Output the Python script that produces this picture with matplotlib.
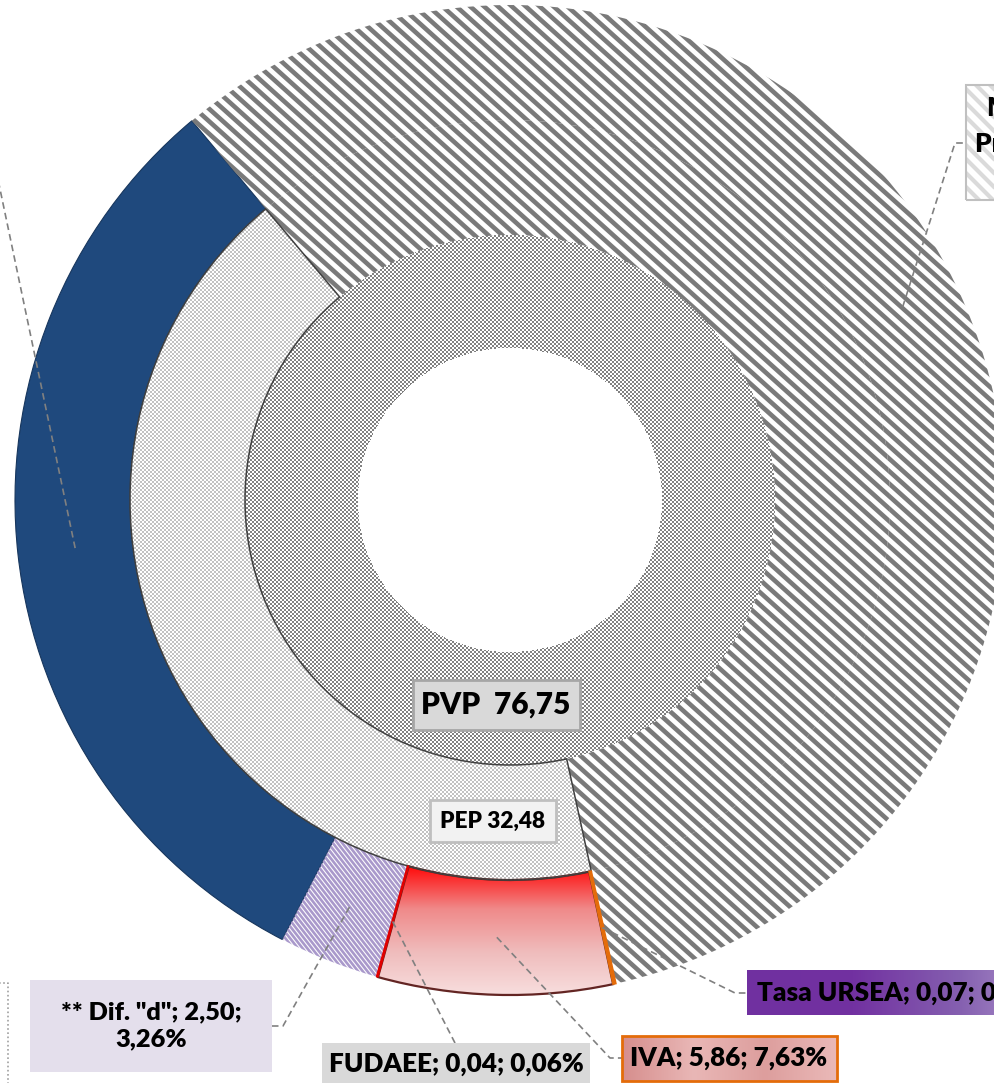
import numpy as np
import matplotlib
matplotlib.use("Agg")
import matplotlib.pyplot as plt
from matplotlib.patches import Rectangle
from matplotlib.collections import LineCollection
from matplotlib.colors import LinearSegmentedColormap, to_rgb

plt.rcParams['font.family'] = ['Lato', 'DejaVu Sans']

# --- data ---
pvp_total = 76.75
middle_names = ['PEP', 'Resto']
middle_values = [32.48, 44.27]
outer_names = ['IMESI', '** Dif. "d"', 'FUDAEE', 'IVA', 'Tasa URSEA', 'Márgenes']
outer_values = [24.01, 2.50, 0.04, 5.86, 0.07, 44.27]
outer_pcts = [31.28, 3.26, 0.06, 7.63, 0.09, 57.68]

W, H = 994, 1083
CX, CY = 510, H - 500
BOLD = 'heavy'


def fmt(v):
    return f"{v:.2f}".replace('.', ',')


def Y(y):
    # pixel row -> data y
    return H - y


def extents(patch):
    return patch.get_path().get_extents(patch.get_patch_transform())


def stripes(ax, patch, spacing, angle, color, lw, z):
    b = extents(patch)
    t = np.tan(np.radians(angle))
    cmin = b.y0 + t * b.x0
    cmax = b.y1 + t * b.x1
    cs = np.arange(np.floor(cmin / spacing) * spacing, cmax + spacing, spacing)
    segs = [[(b.x0 - 5, -t * (b.x0 - 5) + c), (b.x1 + 5, -t * (b.x1 + 5) + c)] for c in cs]
    lc = LineCollection(segs, colors=color, linewidths=lw, zorder=z)
    ax.add_collection(lc)
    lc.set_clip_path(patch)


def checker(ax, w, dark, z, cell=2):
    # pixel checkerboard texture limited to the wedge's ring sector
    cx, cy = w.center
    r0, r1 = w.r - w.width, w.r
    x0, x1 = int(cx - r1) - 1, int(cx + r1) + 2
    y0, y1 = int(cy - r1) - 1, int(cy + r1) + 2
    jj, ii = np.meshgrid(np.arange(x0, x1), np.arange(y0, y1))
    dx, dy = jj + 0.5 - cx, ii + 0.5 - cy
    rr = np.hypot(dx, dy)
    span = w.theta2 - w.theta1
    ang = (np.degrees(np.arctan2(dy, dx)) - w.theta1) % 360
    inside = (rr >= r0) & (rr <= r1) & ((ang <= span) | (span >= 359.99))
    img = np.ones((y1 - y0, x1 - x0, 4))
    img[(ii // cell + jj // cell) % 2 == 0, :3] = to_rgb(dark)
    img[..., 3] = inside
    ax.imshow(img, extent=(x0, x1, y0, y1), origin='lower',
              interpolation='nearest', resample=False, zorder=z)


def gradient(ax, patch, colors, z, horizontal=False):
    b = extents(patch)
    cmap = LinearSegmentedColormap.from_list('g', colors)
    arr = np.linspace(0, 1, 256)
    arr = arr[None, :] if horizontal else arr[:, None]
    im = ax.imshow(arr, cmap=cmap, extent=(b.x0, b.x1, b.y0, b.y1), origin='upper',
                   aspect='auto', interpolation='bicubic', zorder=z)
    im.set_clip_path(patch)


fig = plt.figure(figsize=(W / 100, H / 100), dpi=100)
ax = fig.add_axes([0, 0, 1, 1])

# inner ring: PVP
inner, _ = ax.pie([pvp_total], radius=265, center=(CX, CY), startangle=130,
                  wedgeprops=dict(width=113, edgecolor='none'))
# middle ring: PEP + rest
middle, _ = ax.pie(middle_values, radius=380, center=(CX, CY), startangle=130,
                   wedgeprops=dict(width=115, edgecolor='none'))
# outer ring: components
outer, _ = ax.pie(outer_values, radius=495, center=(CX, CY), startangle=130,
                  wedgeprops=dict(width=115, edgecolor='none'))

# inner ring texture
inner[0].set_facecolor('none')
inner[0].set_zorder(3)
checker(ax, inner[0], '#818181', 2)

# PEP texture + outline
middle[0].set_facecolor('none')
middle[0].set_edgecolor('#404040')
middle[0].set_linewidth(1.1)
middle[0].set_zorder(4)
checker(ax, middle[0], '#c2c2c2', 2)

# gray diagonal stripes (rest, middle + outer)
for w in (middle[1], outer[5]):
    w.set_facecolor('none')
    w.set_zorder(3)
    stripes(ax, w, 12.5, 42, '#7a7a7a', 3.3, 2)

# IMESI
outer[0].set_facecolor('#1f497d')
outer[0].set_edgecolor('#17365d')
outer[0].set_linewidth(0.8)

# Dif "d"
outer[1].set_facecolor('none')
outer[1].set_zorder(3)
stripes(ax, outer[1], 6, 52, '#a999cb', 1.9, 2)

# FUDAEE
outer[2].set_facecolor('#e00000')
outer[2].set_edgecolor('#e00000')
outer[2].set_linewidth(1.0)
outer[2].set_zorder(4)

# IVA gradient
outer[3].set_facecolor('none')
outer[3].set_edgecolor('#632523')
outer[3].set_linewidth(1.6)
outer[3].set_zorder(3)
gradient(ax, outer[3], ['#ff0a0a', '#f08a8a', '#efbcbc', '#f8dede'], 2)

# Tasa URSEA
outer[4].set_facecolor('#e46c0a')
outer[4].set_edgecolor('#e46c0a')
outer[4].set_linewidth(1.2)
outer[4].set_zorder(4)

# --- centre labels ---
ax.add_patch(Rectangle((413, Y(730)), 167, 50, facecolor='#d9d9d9',
                       edgecolor='#a6a6a6', linewidth=2, zorder=6))
ax.text(496, Y(705), 'PVP  ' + fmt(pvp_total), ha='center', va='center',
        fontsize=21.5, fontweight=BOLD, zorder=7)
ax.add_patch(Rectangle((430, Y(842)), 126, 42, facecolor='#f2f2f2',
                       edgecolor='#bfbfbf', linewidth=2, zorder=6))
ax.text(493, Y(821), middle_names[0] + ' ' + fmt(middle_values[0]), ha='center',
        va='center', fontsize=16.3, fontweight=BOLD, zorder=7)

# --- leader lines from wedge centroids ---
dash = dict(color='#808080', linewidth=1.2, linestyle=(0, (4, 2.5)), zorder=5)


def anchor(w):
    a = np.radians((w.theta1 + w.theta2) / 2)
    r = w.r - w.width / 2
    return CX + r * np.cos(a), CY + r * np.sin(a)


elbows = {
    0: [(-4, Y(170))],
    1: [(283, Y(1026)), (272, Y(1026))],
    2: [(455, Y(1043))],
    3: [(610, Y(1058)), (622, Y(1058))],
    4: [(735, Y(993)), (747, Y(993))],
    5: [(955, Y(143)), (966, Y(143))],
}
for i, pts in elbows.items():
    xs, ys = zip(anchor(outer[i]), *pts)
    ax.plot(xs, ys, **dash)

# --- outer labels ---
lab = [f"{n}; {fmt(v)}; {fmt(p)}%" for n, v, p in zip(outer_names, outer_values, outer_pcts)]
fs = 18.8

# Dif "d"
ax.add_patch(Rectangle((30, Y(1072)), 242, 92, facecolor='#e4dfec', edgecolor='none', zorder=6))
ax.text(151, Y(1026), f'{outer_names[1]}; {fmt(outer_values[1])};\n{fmt(outer_pcts[1])}%',
        ha='center', va='center', fontsize=18.3, fontweight=BOLD, linespacing=1.3, zorder=7)

# FUDAEE
ax.add_patch(Rectangle((322, Y(1095)), 268, 52, facecolor='#d9d9d9', edgecolor='none', zorder=6))
ax.text(456, Y(1064), lab[2], ha='center', va='center', fontsize=fs, fontweight=BOLD, zorder=7)

# IVA
iva_box = Rectangle((622, Y(1081)), 215, 45, facecolor='none', edgecolor='#e46c0a',
                    linewidth=2, zorder=7)
ax.add_patch(iva_box)
gradient(ax, iva_box, ['#d68e8d', '#e9b7b6', '#dd9e9d', '#eab9b8'], 6, horizontal=True)
ax.text(729, Y(1058), lab[3], ha='center', va='center', fontsize=fs, fontweight=BOLD, zorder=8)

# Tasa URSEA
ur_box = Rectangle((747, Y(1015)), 320, 45, facecolor='none', edgecolor='none', zorder=7)
ax.add_patch(ur_box)
gradient(ax, ur_box, ['#7030a0', '#7231a1', '#8560b0', '#b8a0d4'], 6, horizontal=True)
ax.text(757, Y(993), lab[4], ha='left', va='center', fontsize=fs, fontweight=BOLD, zorder=8)

# rest (cut at right edge)
rest_box = Rectangle((966, Y(200)), 280, 115, facecolor='none', edgecolor='#c0c0c0',
                     linewidth=1.5, zorder=7)
ax.add_patch(rest_box)
stripes(ax, rest_box, 14, 45, '#dadada', 3, 6)
for x, y, s in [(986, 108, 'Márgenes;'), (975, 143, 'Precio Paridad;'),
                (1000, 178, f'{fmt(outer_values[5])}; {fmt(outer_pcts[5])}%')]:
    ax.text(x, Y(y), s, ha='left', va='center', fontsize=fs, fontweight=BOLD, zorder=8)

# partial dotted box at bottom-left corner
ax.plot([-10, 8, 8], [Y(983), Y(983), Y(1090)], color='#a0a0a0', linewidth=1.2,
        linestyle=(0, (1, 1.5)), zorder=5)

ax.set_xlim(0, W)
ax.set_ylim(0, H)
ax.set_aspect('equal')
ax.axis('off')

fig.savefig('out.png', dpi=100)
